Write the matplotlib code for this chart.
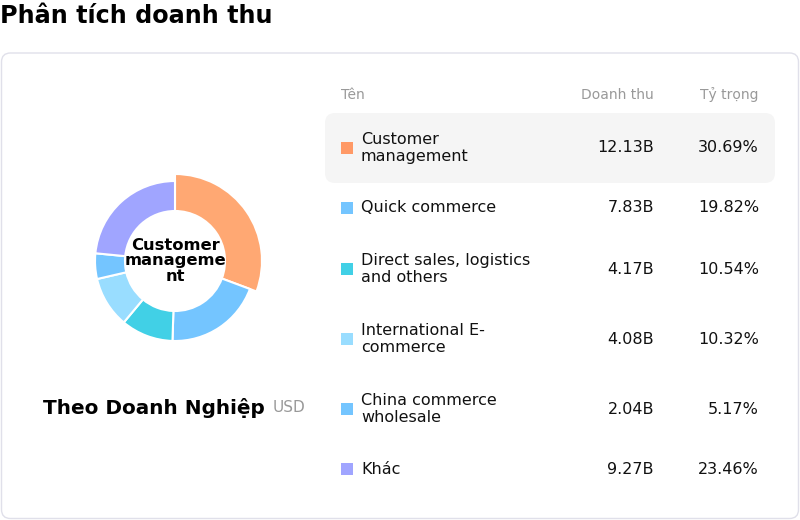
import matplotlib.pyplot as plt
from matplotlib.patches import FancyBboxPatch, Rectangle

# Data
names = ["Customer\nmanagement", "Quick commerce", "Direct sales, logistics\nand others",
         "International E-\ncommerce", "China commerce\nwholesale", "Khác"]
revenue = [12.13, 7.83, 4.17, 4.08, 2.04, 9.27]
revenue_labels = ["12.13B", "7.83B", "4.17B", "4.08B", "2.04B", "9.27B"]
share_labels = ["30.69%", "19.82%", "10.54%", "10.32%", "5.17%", "23.46%"]
colors = ["#FF9966", "#74C5FF", "#41D0E6", "#99DDFF", "#74C5FF", "#A0A5FF"]
active = 0

W, H = 800, 520
fig = plt.figure(figsize=(8, 5.2), dpi=100)

# full figure axes in pixel coords for the card / table
bg = fig.add_axes([0, 0, 1, 1])
bg.set_xlim(0, W)
bg.set_ylim(H, 0)
bg.axis("off")

card = FancyBboxPatch((1.5, 53), 797, 465.5, boxstyle="round,pad=0,rounding_size=9",
                      fc="white", ec="#E0E0EA", lw=1)
bg.add_patch(card)

bg.text(0, 16, "Phân tích doanh thu", fontsize=17.2, fontweight="bold",
        ha="left", va="center", color="#000000")

# table header
bg.text(341, 95, "Tên", fontsize=10, color="#999999", ha="left", va="center")
bg.text(654, 95, "Doanh thu", fontsize=10, color="#999999", ha="right", va="center")
bg.text(759, 95, "Tỷ trọng", fontsize=10, color="#999999", ha="right", va="center")

row_y = [148, 208, 269, 339, 409, 469]
hl = FancyBboxPatch((325, 113), 450, 70, boxstyle="round,pad=0,rounding_size=10",
                    fc="#F5F5F5", ec="none")
bg.add_patch(hl)

for i, name in enumerate(names):
    y = row_y[i]
    bg.add_patch(Rectangle((341, y - 6), 12, 12, fc=colors[i], ec="none"))
    bg.text(361, y, name, fontsize=11.5, color="#111111", ha="left", va="center",
            linespacing=1.15)
    bg.text(654, y, revenue_labels[i], fontsize=11.5, color="#111111", ha="right", va="center")
    bg.text(759, y, share_labels[i], fontsize=11.5, color="#111111", ha="right", va="center")

bg.text(43, 408, "Theo Doanh Nghiệp", fontsize=14.4, fontweight="bold",
        ha="left", va="center", color="#000000")
bg.text(273, 408, "USD", fontsize=11, ha="left", va="center", color="#999999")

# donut
cx, cy, r = 175, 261, 80
half = 100
ax = fig.add_axes([(cx - half) / W, (H - cy - half) / H, 2 * half / W, 2 * half / H])
ax.set_aspect("equal")
ax.axis("off")

inner = 50 / r
wedges, _ = ax.pie(revenue, colors=colors, startangle=90, counterclock=False, radius=1,
                   wedgeprops=dict(width=1 - inner, edgecolor="white", linewidth=1.5))
big = 87 / r
wedges[active].set_radius(big)
wedges[active].set_width(big - inner)
wedges[active].set_facecolor("#FFA873")
ax.set_xlim(-half / r, half / r)
ax.set_ylim(-half / r, half / r)

ax.text(0, 0, "Customer\nmanageme\nnt", ha="center", va="center", fontsize=11.8,
        fontweight="bold", linespacing=1.08, color="#000000")

fig.savefig("out.png", dpi=100)
